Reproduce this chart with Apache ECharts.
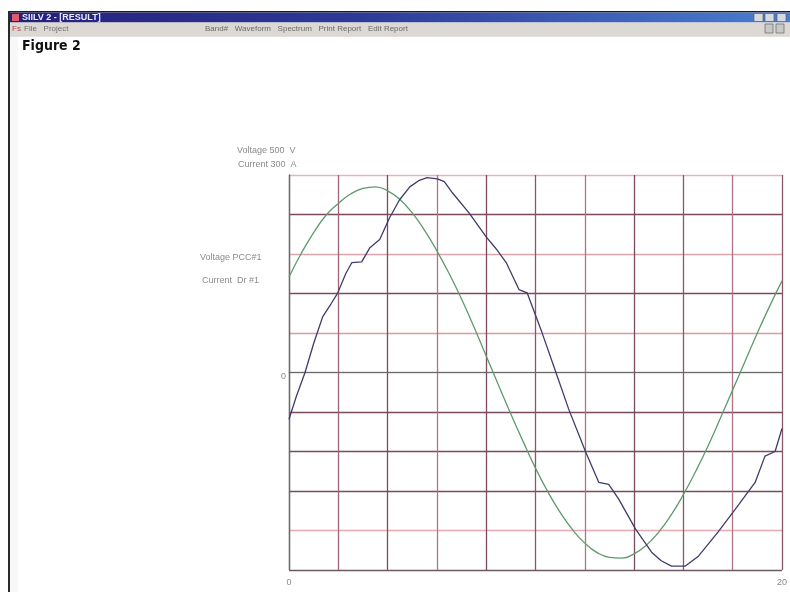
<!DOCTYPE html>
<html lang="en">
<head>
    <meta charset="UTF-8">
    <title>Figure 2</title>
    <script src="https://cdn.jsdelivr.net/npm/echarts@6/dist/echarts.min.js"></script>
    <style>
        html, body { margin: 0; padding: 0; background: #fff; }
        #main { width: 790px; height: 592px; }
    </style>
</head>
<body>
<div id="main"></div>
<script>
    // voltage PCC#1 (V), read every 0.5 ms
    var voltageTime = [0, 0.5, 1, 1.5, 2, 2.5, 3, 3.5, 4, 4.5, 5, 5.5, 6, 6.5, 7, 7.5, 8, 8.5, 9, 9.5, 10,
        10.5, 11, 11.5, 12, 12.5, 13, 13.5, 14, 14.5, 15, 15.5, 16, 16.5, 17, 17.5, 18, 18.5, 19, 19.5, 20];
    var voltageValues = [242, 302, 354, 398, 428, 452, 466, 470, 460, 438, 404, 360, 308, 250, 186, 116, 42, -32, -105, -175, -242,
        -302, -354, -398, -432, -456, -468, -470, -459, -437, -404, -361, -309, -250, -186, -116, -44, 28, 100, 168, 232];

    // current Dr #1 (A)
    var currentTime = [0, 0.3, 0.65, 1.0, 1.37, 1.7, 1.98, 2.3, 2.55, 2.95, 3.27, 3.68, 4.08, 4.48, 4.9, 5.29, 5.6, 6.02, 6.3,
        6.63, 7.31, 8.0, 8.4, 8.81, 9.33, 9.66, 10.26, 10.83, 11.35, 12.04, 12.57, 12.97, 13.37, 14.06, 14.71, 15.1,
        15.52, 16.08, 16.61, 17.41, 18.1, 18.91, 19.31, 19.72, 20];
    var currentValues = [-71, -36, 0, 44, 85, 104, 121, 150, 167, 168, 189, 202, 235, 262, 282, 292, 296, 294, 290,
        273, 242, 206, 188, 167, 126, 121, 61, 0, -56, -121, -167, -170, -192, -238, -273, -286,
        -294, -294, -279, -242, -208, -167, -127, -120, -85];

    var xTickLabels = ['0', '20'];
    var yTickLabels = ['0'];

    function pairs(t, v) {
        var out = [];
        for (var i = 0; i < t.length; i++) out.push([t[i], v[i]]);
        return out;
    }

    var myChart = echarts.init(document.getElementById('main'));

    // grid colours, from min (bottom / left) to max
    var hColors = ['#6e5a62', '#e4aab2', '#7a4a5e', '#7a4a5e', '#7a4a5e', '#9a9a9a', '#dc9aa4', '#7a4a5e', '#e0a4ac', '#7a4a5e', '#e8b4bc'];
    var vColors = ['#6a6a6a', '#a06474', '#7a4a5e', '#b07484', '#7a4a5e', '#8a5668', '#b07484', '#7a4a5e', '#8a5668', '#b07484', '#8a5668'];

    var lbl = { fontFamily: 'Liberation Sans', fontSize: 9, fill: '#8a8a8a' };

    var option = {
        backgroundColor: '#ffffff',
        animation: false,
        grid: { left: 289, right: 6, top: 175, bottom: 22 },
        xAxis: {
            type: 'value', min: 0, max: 20, interval: 2,
            axisLine: { show: true, lineStyle: { color: '#6a6a6a', width: 1 } },
            axisTick: { show: false },
            axisLabel: {
                margin: 8, color: '#8a8a8a', fontSize: 9, fontFamily: 'Liberation Sans',
                formatter: function (v) { return xTickLabels.indexOf(String(v)) >= 0 ? String(v) : ''; }
            },
            splitLine: { show: true, lineStyle: { color: vColors, width: 1.3 } }
        },
        yAxis: [{
            type: 'value', min: -500, max: 500, interval: 100,
            axisLine: { show: true, lineStyle: { color: '#6a6a6a', width: 1.3 } },
            axisTick: { show: false },
            axisLabel: {
                margin: 3, color: '#8a8a8a', fontSize: 9, fontFamily: 'Liberation Sans', verticalAlign: 'top',
                formatter: function (v) { return yTickLabels.indexOf(String(v)) >= 0 ? String(v) : ''; }
            },
            splitLine: { show: true, lineStyle: { color: hColors, width: 1.3 } }
        }, {
            type: 'value', min: -300, max: 300, interval: 60, show: false,
            splitLine: { show: false }
        }],
        series: [{
            name: 'Voltage PCC#1', type: 'line', yAxisIndex: 0,
            showSymbol: false, smooth: true,
            lineStyle: { color: '#5e9a6c', width: 1.3 },
            data: pairs(voltageTime, voltageValues)
        }, {
            name: 'Current Dr #1', type: 'line', yAxisIndex: 1,
            showSymbol: false,
            lineStyle: { color: '#3e3c6c', width: 1.3 },
            data: pairs(currentTime, currentValues)
        }],
        graphic: [
            // window frame
            { type: 'rect', shape: { x: 8, y: 11, width: 782, height: 1.5 }, style: { fill: '#1a1a1a' } },
            { type: 'rect', shape: { x: 8, y: 11, width: 2, height: 581 }, style: { fill: '#2a2a2a' } },
            { type: 'rect', shape: { x: 10, y: 36, width: 8, height: 556 }, style: { fill: '#f8f8f8' } },
            // title bar
            {
                type: 'rect', shape: { x: 10, y: 12.5, width: 780, height: 10 },
                style: {
                    fill: new echarts.graphic.LinearGradient(0, 0, 1, 0, [
                        { offset: 0, color: '#24207a' }, { offset: 0.45, color: '#2e3a98' }, { offset: 1, color: '#4a7ed0' }
                    ])
                }
            },
            { type: 'rect', shape: { x: 12, y: 14, width: 7, height: 7 }, style: { fill: '#e05a6a' } },
            { type: 'text', x: 22, y: 13, style: { text: 'SIILV 2 - [RESULT]', fontFamily: 'Liberation Sans', fontSize: 9, fontWeight: 'bold', fill: '#e8e8ff' } },
            { type: 'rect', shape: { x: 754, y: 13.5, width: 9, height: 8 }, style: { fill: '#d8d8e0', stroke: '#555', lineWidth: 0.6 } },
            { type: 'rect', shape: { x: 765, y: 13.5, width: 9, height: 8 }, style: { fill: '#d8d8e0', stroke: '#555', lineWidth: 0.6 } },
            { type: 'rect', shape: { x: 777, y: 13.5, width: 9, height: 8 }, style: { fill: '#d8d8e0', stroke: '#555', lineWidth: 0.6 } },
            // menu bar
            { type: 'rect', shape: { x: 10, y: 22.5, width: 780, height: 13 }, style: { fill: '#dcd8d4' } },
            { type: 'rect', shape: { x: 10, y: 35.5, width: 780, height: 1 }, style: { fill: '#c8c4c0' } },
            { type: 'text', x: 12, y: 25, style: { text: 'Fs', fontFamily: 'Liberation Sans', fontSize: 8, fill: '#c0404a' } },
            { type: 'text', x: 24, y: 25, style: { text: 'File   Project', fontFamily: 'Liberation Sans', fontSize: 8, fill: '#707070' } },
            { type: 'text', x: 205, y: 25, style: { text: 'Band#   Waveform   Spectrum   Print Report   Edit Report', fontFamily: 'Liberation Sans', fontSize: 8, fill: '#6a6a6a' } },
            { type: 'rect', shape: { x: 765, y: 24, width: 8, height: 9 }, style: { fill: '#c8c8c8', stroke: '#555', lineWidth: 0.6 } },
            { type: 'rect', shape: { x: 776, y: 24, width: 8, height: 9 }, style: { fill: '#c8c8c8', stroke: '#555', lineWidth: 0.6 } },
            // figure caption
            { type: 'text', x: 22, y: 39, style: { text: 'Figure 2', fontFamily: '"DejaVu Sans Condensed", "Liberation Sans", sans-serif', fontSize: 14, fontWeight: 'bold', fill: '#111' } },
            // scale and channel labels
            { type: 'text', x: 237, y: 146, style: Object.assign({ text: 'Voltage 500  V' }, lbl) },
            { type: 'text', x: 238, y: 160, style: Object.assign({ text: 'Current 300  A' }, lbl) },
            { type: 'text', x: 200, y: 253, style: Object.assign({ text: 'Voltage PCC#1' }, lbl) },
            { type: 'text', x: 202, y: 276, style: Object.assign({ text: 'Current  Dr #1' }, lbl) }
        ]
    };

    myChart.setOption(option);
</script>
</body>
</html>
